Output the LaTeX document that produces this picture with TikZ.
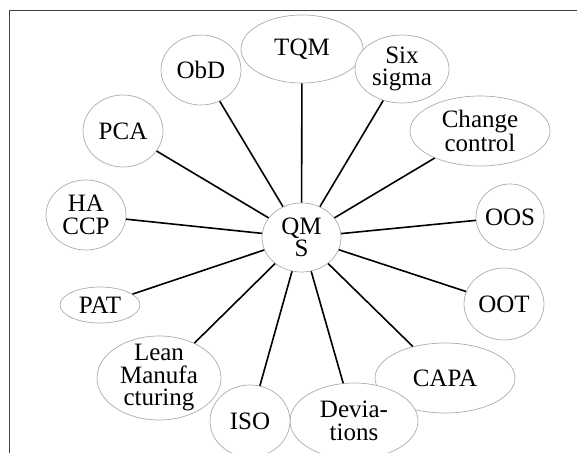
\documentclass[tikz,border=0pt]{standalone}
\usepackage{fontspec}
\setmainfont{Liberation Serif}
\usetikzlibrary{shapes.geometric}

\begin{document}
\begin{tikzpicture}[x=1bp,y=-1bp,
  bub/.style={ellipse,draw=gray!65,line width=0.7bp,fill=white,inner sep=0pt},
  txt/.style={font=\fontsize{25bp}{22.5bp}\selectfont,align=center,inner sep=0pt},
  spoke/.style={line width=1.6bp,black},
  frm/.style={line width=1bp,black!75},
]

\useasboundingbox (0,0) rectangle (577,453);

% ------------------------------------------------------------------
% frame (only top and left edge show)
% ------------------------------------------------------------------
\draw[frm] (9.5,453) -- (9.5,11) -- (577,11);

% ------------------------------------------------------------------
% hub
% ------------------------------------------------------------------
\node[bub,minimum width=79bp,minimum height=69bp,
  label={[txt]center:QM\\S}] (qms) at (301.5,237.5) {};

% ------------------------------------------------------------------
% outer bubbles, clockwise from top
% ------------------------------------------------------------------
\node[bub,minimum width=122bp,minimum height=68bp,
  label={[txt]center:TQM}] (tqm) at (302,49) {};
\node[bub,minimum width=94bp,minimum height=68bp,
  label={[txt]center:Six\\sigma}] (six) at (402,69) {};
\node[bub,minimum width=140bp,minimum height=70bp,
  label={[txt]center:Change\\control}] (chg) at (480,131) {};
\node[bub,minimum width=68bp,minimum height=66bp,
  label={[txt]center:OOS}] (oos) at (510,217) {};
\node[bub,minimum width=80bp,minimum height=72bp,
  label={[txt]center:OOT}] (oot) at (504,304) {};
\node[bub,minimum width=140bp,minimum height=70bp,
  label={[txt]center:CAPA}] (capa) at (445,378) {};
\node[bub,minimum width=128bp,minimum height=76bp,
  label={[txt]center:Devia-\\tions}] (dev) at (354,421) {};
\node[bub,minimum width=124bp,minimum height=84bp,
  label={[txt]center:Lean\\Manufa\\cturing}] (lean) at (159,378) {};
\node[bub,minimum width=80bp,minimum height=72bp,
  label={[txt]center:ISO}] (iso) at (250,421) {};
\node[bub,minimum width=80bp,minimum height=36bp,
  label={[txt]center:PAT}] (pat) at (100,305) {};
\node[bub,minimum width=80bp,minimum height=70bp,
  label={[txt]center:HA\\CCP}] (haccp) at (86,215) {};
\node[bub,minimum width=80bp,minimum height=72bp,
  label={[txt]center:PCA}] (pca) at (123,131) {};
\node[bub,minimum width=80bp,minimum height=70bp,
  label={[txt]center:ObD}] (obd) at (201,70) {};

% ------------------------------------------------------------------
% spokes
% ------------------------------------------------------------------
\draw[spoke] (qms) -- (tqm);
\draw[spoke] (qms) -- (six);
\draw[spoke] (qms) -- (chg);
\draw[spoke] (qms) -- (oos);
\draw[spoke] (qms) -- (oot);
\draw[spoke] (qms) -- (capa);
\draw[spoke] (qms) -- (dev);
\draw[spoke] (qms) -- (iso);
\draw[spoke] (qms) -- (lean);
\draw[spoke] (qms) -- (pat);
\draw[spoke] (qms) -- (haccp);
\draw[spoke] (qms) -- (pca);
\draw[spoke] (qms) -- (obd);

\end{tikzpicture}
\end{document}
